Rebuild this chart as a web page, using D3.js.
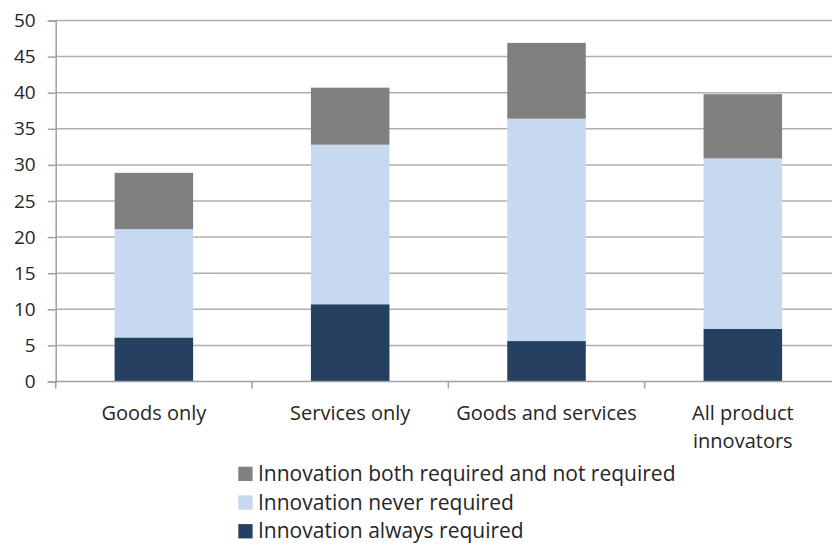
<!DOCTYPE html>
<html><head><meta charset="utf-8">
<script src="https://cdn.jsdelivr.net/npm/d3@7/dist/d3.min.js"></script>
<style>
body{margin:0;background:#fff;}
text{font-family:"Open Sans","Roboto","Liberation Sans",sans-serif;fill:#262626;}
</style></head>
<body><svg id="c" width="832" height="545"></svg>
<script>
const categories = ["Goods only", "Services only", "Goods and services", "All product innovators"];
const categoryLines = [["Goods only"], ["Services only"], ["Goods and services"], ["All product", "innovators"]];
const seriesNames = ["Innovation always required", "Innovation never required", "Innovation both required and not required"];
const alwaysRequired = [6.1, 10.7, 5.6, 7.3];
const neverRequired = [15.0, 22.1, 30.8, 23.6];
const bothRequired = [7.8, 7.9, 10.5, 8.9];
const yTicks = [0, 5, 10, 15, 20, 25, 30, 35, 40, 45, 50];
const colors = ["#254061", "#C6D9F1", "#808080"];

const svg = d3.select("#c");
const mLeft = 55.7, mRight = 841, mTop = 20.5, mBottom = 381.5;
const x = d3.scaleBand().domain(categories).range([mLeft, mRight]).paddingInner(0).paddingOuter(0);
const y = d3.scaleLinear().domain([0, 50]).range([mBottom, mTop]);
const barW = x.bandwidth() * 0.4;

// gridlines
svg.append("g").selectAll("line").data(yTicks.filter(d => d > 0)).join("line")
  .attr("x1", mLeft).attr("x2", 832).attr("y1", d => y(d)).attr("y2", d => y(d))
  .attr("stroke", "#b0b0b0").attr("stroke-width", 1.5);

// stacked bars
const rows = categories.map((c, i) => ({cat: c, s0: alwaysRequired[i], s1: neverRequired[i], s2: bothRequired[i]}));
const stack = d3.stack().keys(["s0", "s1", "s2"])(rows);
stack.forEach((layer, k) => {
  svg.append("g").selectAll("rect").data(layer).join("rect")
    .attr("x", d => x(d.data.cat) + (x.bandwidth() - barW) / 2)
    .attr("width", barW)
    .attr("y", d => y(d[1]))
    .attr("height", d => y(d[0]) - y(d[1]))
    .attr("fill", colors[k]);
});

// y axis
const yAxis = svg.append("g").attr("transform", `translate(${mLeft},0)`)
  .call(d3.axisLeft(y).tickValues(yTicks).tickSize(8).tickPadding(12));
yAxis.select(".domain").attr("stroke", "#a0a0a0").attr("stroke-width", 1.5);
yAxis.selectAll(".tick line").attr("stroke", "#a0a0a0").attr("stroke-width", 1.5);
yAxis.selectAll(".tick text").style("font-size", "19px").style("font-family", "'Open Sans',sans-serif").attr("fill", "#262626");

// x axis baseline + ticks
const xAxis = svg.append("g").attr("transform", `translate(0,${mBottom})`);
xAxis.append("line").attr("x1", mLeft).attr("x2", 832).attr("stroke", "#a0a0a0").attr("stroke-width", 1.5);
const bounds = categories.map(c => x(c));
xAxis.selectAll("line.t").data(bounds).join("line").attr("class", "t")
  .attr("x1", d => d).attr("x2", d => d).attr("y1", 0).attr("y2", 7)
  .attr("stroke", "#a0a0a0").attr("stroke-width", 1.5);
xAxis.selectAll("text").data(categories).join("text")
  .attr("text-anchor", "middle")
  .attr("x", d => x(d) + x.bandwidth() / 2)
  .style("font-size", "20px")
  .each(function(d, i) {
    d3.select(this).selectAll("tspan").data(categoryLines[i]).join("tspan")
      .attr("x", x(d) + x.bandwidth() / 2)
      .attr("y", (t, j) => 38.5 + j * 27.5)
      .text(t => t);
  });

// legend
const legendOrder = [2, 1, 0];
const lg = svg.append("g");
legendOrder.forEach((k, j) => {
  const base = 481 + j * 28.7;
  lg.append("rect").attr("x", 238.3).attr("y", base - 14.3).attr("width", 14.3).attr("height", 14.3).attr("fill", colors[k]);
  lg.append("text").attr("x", 258).attr("y", base).style("font-size", "21px").text(seriesNames[k]);
});
</script></body></html>
